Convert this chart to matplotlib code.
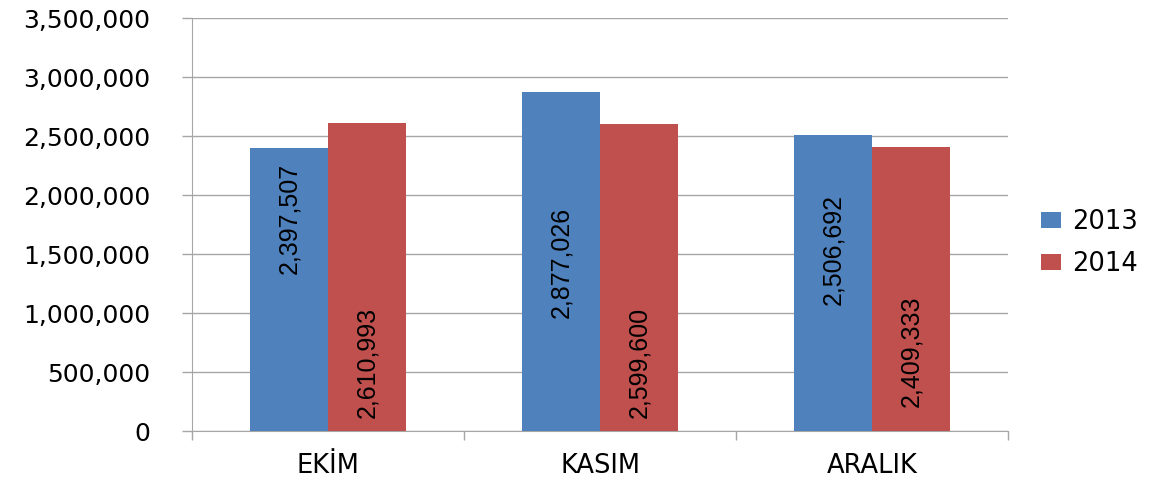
import numpy as np
import matplotlib
matplotlib.use("Agg")
import matplotlib.pyplot as plt
from matplotlib.ticker import FuncFormatter, FixedLocator

# ------------------------------------------------------------------
# Datos
# ------------------------------------------------------------------
aylar = ["EKİM", "KASIM", "ARALIK"]
yil_2013 = [2397507, 2877026, 2506692]
yil_2014 = [2610993, 2599600, 2409333]
seriler = ["2013", "2014"]

etiqueta_y_2013 = [1805000, 1432000, 1542000]
etiqueta_y_2014 = [585000, 585000, 678000]

AZUL = "#4F81BD"
ROJO = "#C0504D"
GRIS = "#A6A6A6"

fig = plt.figure(figsize=(11.54, 4.8), dpi=100)
ax = fig.add_axes([0.1664, 0.102, 0.8735 - 0.1664, 0.9625 - 0.102])

x = np.arange(len(aylar))
ancho = 0.2867

ax.bar(x - ancho / 2, yil_2013, ancho, color=AZUL, label=seriler[0], zorder=3)
ax.bar(x + ancho / 2, yil_2014, ancho, color=ROJO, label=seriler[1], zorder=3)

# etiquetas giradas dentro de las barras (fuente más estrecha)
fam_etq = ["Liberation Sans", "DejaVu Sans"]
for xi, v, yl in zip(x, yil_2013, etiqueta_y_2013):
    ax.text(xi - ancho / 2, yl, f"{v:,}", rotation=90, ha="center", va="center",
            fontsize=18, family=fam_etq, zorder=4)
for xi, v, yl in zip(x, yil_2014, etiqueta_y_2014):
    ax.text(xi + ancho / 2, yl, f"{v:,}", rotation=90, ha="center", va="center",
            fontsize=18, family=fam_etq, zorder=4)

# ejes
ax.set_xlim(-0.5, len(aylar) - 0.5)
ax.set_ylim(0, 3500000)
ax.yaxis.set_major_locator(FixedLocator(np.arange(0, 3500001, 500000)))
ax.yaxis.set_major_formatter(FuncFormatter(lambda v, p: f"{int(v):,}"))
ax.grid(axis="y", color=GRIS, linewidth=1, zorder=0)
ax.tick_params(axis="y", length=7, width=1, color=GRIS, pad=23, labelsize=18)

ax.set_xticks(x)
ax.set_xticklabels(aylar)
ax.set_xticks(np.arange(-0.5, len(aylar), 1), minor=True)
ax.tick_params(axis="x", which="major", length=0, pad=16, labelsize=18.5)
ax.tick_params(axis="x", which="minor", length=6.5, width=1, color=GRIS)

for lado in ["top", "right"]:
    ax.spines[lado].set_visible(False)
ax.spines["left"].set_color(GRIS)
ax.spines["bottom"].set_color(GRIS)

ax.legend(loc="center left", bbox_to_anchor=(1.012, 0.455), frameon=False,
          fontsize=18.5, handlelength=0.8, handleheight=0.6, handletextpad=0.4,
          labelspacing=0.6)

fig.savefig("out.png", dpi=100)
